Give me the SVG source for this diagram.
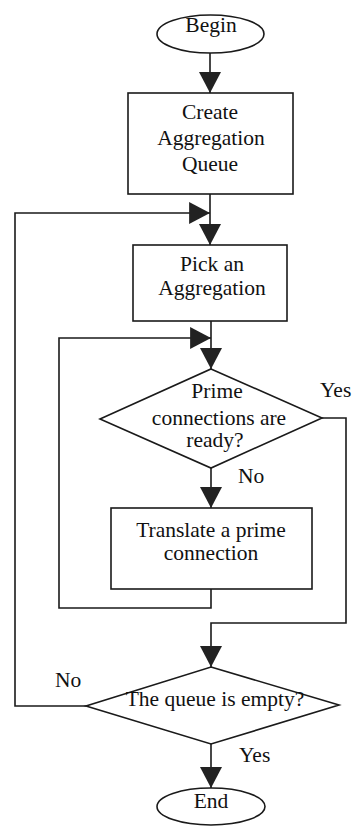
<svg xmlns="http://www.w3.org/2000/svg" width="353" height="829" viewBox="0 0 353 829">
<defs>
<style>
.shape{fill:#fff;stroke:#1a1a1a;stroke-width:1.6}
.line{fill:none;stroke:#1a1a1a;stroke-width:1.6}
text{font-family:"Liberation Serif","Times New Roman",serif;font-size:21.5px;fill:#111}
.c{text-anchor:middle}
</style>
<marker id="arr" markerUnits="userSpaceOnUse" markerWidth="22" markerHeight="22" viewBox="0 0 20 20" refX="19" refY="10" orient="auto">
<path d="M0,0 L19,10 L0,20 Z" fill="#222"/>
</marker>
</defs>
<rect width="353" height="829" fill="#fff"/>
<g id="connectors">
<path class="line" d="M210,53 V93" marker-end="url(#arr)"/>
<path class="line" d="M210,194 V245" marker-end="url(#arr)"/>
<path class="line" d="M86,706 H15 V213 H210" marker-end="url(#arr)"/>
<path class="line" d="M211,321 V369" marker-end="url(#arr)"/>
<path class="line" d="M211,589 V608 H59 V338 H211" marker-end="url(#arr)"/>
<path class="line" d="M211,468 V508" marker-end="url(#arr)"/>
<path class="line" d="M322,418 H346 V623 H211 V667" marker-end="url(#arr)"/>
<path class="line" d="M211,744 V788" marker-end="url(#arr)"/>
</g>
<g id="begin">
<ellipse class="shape" cx="210.5" cy="34" rx="53.5" ry="19"/>
<text class="c" x="211" y="32">Begin</text>
</g>
<g id="create">
<rect class="shape" x="128" y="93" width="165" height="101"/>
<text class="c" x="210" y="119">Create</text>
<text class="c" x="211" y="145">Aggregation</text>
<text class="c" x="210" y="171">Queue</text>
</g>
<g id="pick">
<rect class="shape" x="133" y="245" width="154" height="76"/>
<text class="c" x="212" y="271">Pick an</text>
<text class="c" x="212" y="295">Aggregation</text>
</g>
<g id="decision1">
<polygon class="shape" points="211,369 322,418 211,468 100,419"/>
<text class="c" x="217" y="398">Prime</text>
<text class="c" x="219" y="425">connections are</text>
<text class="c" x="215" y="447">ready?</text>
</g>
<g id="translate">
<rect class="shape" x="111" y="508" width="201" height="81"/>
<text class="c" x="211" y="537">Translate a prime</text>
<text class="c" x="211" y="560">connection</text>
</g>
<g id="decision2">
<polygon class="shape" points="211,667 339,705 211,744 86,706"/>
<text class="c" x="215" y="706">The queue is empty?</text>
</g>
<g id="end">
<ellipse class="shape" cx="211" cy="806.5" rx="54" ry="18.5"/>
<text class="c" x="211" y="808">End</text>
</g>
<g id="labels">
<text x="320" y="397">Yes</text>
<text x="238" y="483">No</text>
<text x="55" y="687">No</text>
<text x="239" y="762">Yes</text>
</g>
</svg>
